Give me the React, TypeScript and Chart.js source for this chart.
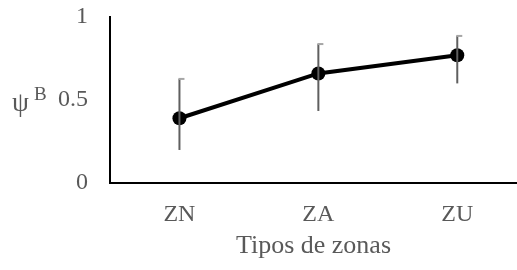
import React, { useEffect, useRef } from "react";
import { Chart, registerables } from "chart.js";

Chart.register(...registerables);

const categories = ["ZN", "ZA", "ZU"];
const values = [0.39, 0.66, 0.77];
const errUpper = [0.627, 0.837, 0.886];
const errLower = [0.199, 0.434, 0.6];
const yTicks = [0, 0.5, 1];
const xTitle = "Tipos de zonas";
const yLabelMain = "ψ";
const yLabelSup = "B";

const FONT = "'Liberation Serif', 'Times New Roman', serif";
const TEXT = "#595959";

const errorBarPlugin = {
  id: "errorBars",
  afterDatasetsDraw(chart: any) {
    const { ctx, scales } = chart;
    const xs = scales.x;
    const ys = scales.y;
    ctx.save();
    for (let i = 0; i < values.length; i++) {
      const x = xs.getPixelForValue(i);
      const yt = ys.getPixelForValue(errUpper[i]);
      const yb = ys.getPixelForValue(errLower[i]);
      ctx.strokeStyle = "#5f5f5f";
      ctx.lineWidth = 2;
      ctx.beginPath();
      ctx.moveTo(x, yt);
      ctx.lineTo(x, yb);
      ctx.stroke();
      ctx.fillStyle = "#a6a6a6";
      ctx.fillRect(x - 1, yt - 1, 6, 2);
    }
    ctx.restore();
  },
};

const yLabelPlugin = {
  id: "yLabel",
  afterDraw(chart: any) {
    const { ctx } = chart;
    ctx.save();
    ctx.fillStyle = TEXT;
    ctx.textBaseline = "alphabetic";
    ctx.textAlign = "left";
    ctx.font = `27px ${FONT}`;
    ctx.fillText(yLabelMain, 12, 111);
    ctx.font = `19px ${FONT}`;
    ctx.fillText(yLabelSup, 34, 100);
    ctx.restore();
  },
};

export default function App() {
  const ref = useRef<HTMLCanvasElement>(null);
  useEffect(() => {
    if (!ref.current) return;
    const chart = new Chart(ref.current, {
      type: "line",
      data: {
        datasets: [
          {
            data: values.map((v, i) => ({ x: i, y: v })),
            borderColor: "#000",
            backgroundColor: "#000",
            borderWidth: 4,
            pointRadius: 7,
            pointBackgroundColor: "#000",
            pointBorderColor: "#000",
            pointBorderWidth: 0,
            tension: 0,
          },
        ],
      },
      options: {
        animation: false,
        responsive: false,
        layout: { autoPadding: false, padding: { top: 17, right: 0, left: 0, bottom: 0 } },
        plugins: { legend: { display: false }, tooltip: { enabled: false } },
        scales: {
          x: {
            type: "linear",
            min: -0.5,
            max: 2.43,
            grid: { display: false, drawTicks: false },
            border: { display: true, color: "#000", width: 2 },
            afterBuildTicks: (s: any) => {
              s.ticks = categories.map((_, i) => ({ value: i }));
            },
            afterFit: (s: any) => {
              s.height = 87;
              s.paddingLeft = 0;
              s.paddingRight = 0;
            },
            ticks: {
              padding: 17,
              color: TEXT,
              font: { family: FONT, size: 24 },
              callback: (v: any) => categories[Math.round(Number(v))] ?? "",
              maxRotation: 0,
              autoSkip: false,
            },
            title: {
              display: true,
              text: xTitle,
              color: TEXT,
              font: { family: FONT, size: 26 },
              padding: { top: 4, bottom: 8 },
            },
          },
          y: {
            min: 0,
            max: 1,
            grid: { display: false, drawTicks: false },
            border: { display: true, color: "#000", width: 2 },
            afterBuildTicks: (s: any) => {
              s.ticks = yTicks.map((v) => ({ value: v }));
            },
            afterFit: (s: any) => {
              s.width = 110;
              s.paddingTop = 0;
              s.paddingBottom = 0;
            },
            ticks: {
              padding: 22,
              color: TEXT,
              font: { family: FONT, size: 24 },
              callback: (v: any) => String(v),
            },
          },
        },
      },
      plugins: [errorBarPlugin, yLabelPlugin],
    } as any);
    return () => chart.destroy();
  }, []);
  return (
    <div style={{ position: "fixed", left: 0, top: 0, width: 517, height: 270, background: "#fff" }}>
      <canvas ref={ref} width={517} height={270} style={{ width: 517, height: 270 }} />
    </div>
  );
}
